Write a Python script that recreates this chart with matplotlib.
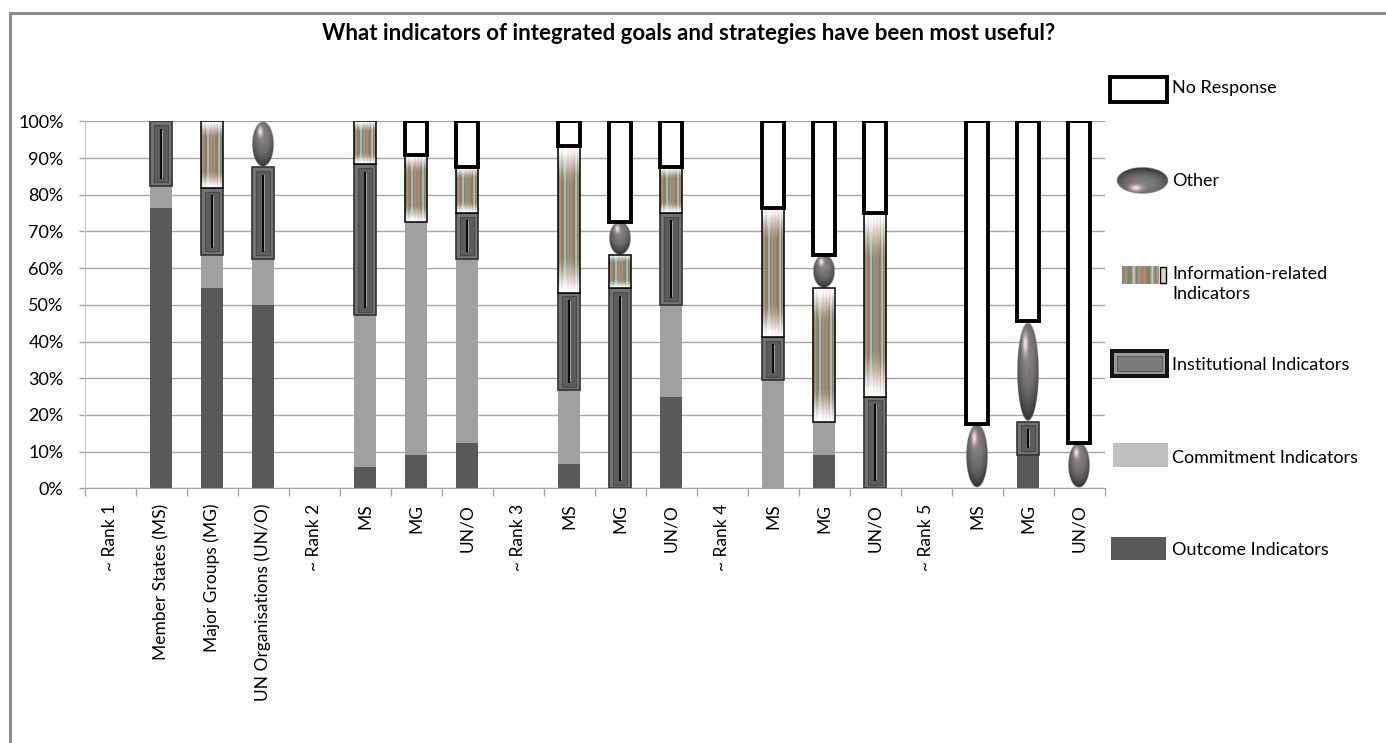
import numpy as np
import matplotlib
matplotlib.use("Agg")
import matplotlib.pyplot as plt
from matplotlib.patches import Rectangle

plt.rcParams["font.family"] = ["Lato", "DejaVu Sans"]

# ---------------------------------------------------------------- data
categories = ["~ Rank 1", "Member States (MS)", "Major Groups (MG)",
              "UN Organisations (UN/O)",
              "~ Rank 2", "MS", "MG", "UN/O",
              "~ Rank 3", "MS", "MG", "UN/O",
              "~ Rank 4", "MS", "MG", "UN/O",
              "~ Rank 5", "MS", "MG", "UN/O"]

outcome = [0, 76.5, 54.5, 50.0, 0, 5.9, 9.1, 12.5, 0, 6.7, 0, 25.0,
           0, 0, 9.1, 0, 0, 0, 9.1, 0]
commitment = [0, 5.9, 9.1, 12.5, 0, 41.2, 63.6, 50.0, 0, 20.0, 0, 25.0,
              0, 29.4, 9.1, 0, 0, 0, 0, 0]
institutional = [0, 17.6, 18.2, 25.0, 0, 41.2, 0, 12.5, 0, 26.6, 54.5, 25.0,
                 0, 11.8, 0, 25.0, 0, 0, 9.1, 0]
information = [0, 0, 18.2, 0, 0, 11.8, 18.2, 12.5, 0, 40.0, 9.1, 12.5,
               0, 35.3, 36.4, 50.0, 0, 0, 0, 0]
other = [0, 0, 0, 12.5, 0, 0, 0, 0, 0, 0, 9.1, 0,
         0, 0, 9.1, 0, 0, 17.6, 27.3, 12.5]
no_response = [0, 0, 0, 0, 0, 0, 9.1, 12.5, 0, 6.7, 27.3, 12.5,
               0, 23.5, 36.4, 25.0, 0, 82.4, 54.5, 87.5]

y_ticks = [0, 10, 20, 30, 40, 50, 60, 70, 80, 90, 100]
title = "What indicators of integrated goals and strategies have been most useful?"
legend_labels = ["No Response", "Other", "Information-related\nIndicators",
                 "Institutional Indicators", "Commitment Indicators",
                 "Outcome Indicators"]

# ---------------------------------------------------------------- textures
def stripe_texture(ncols=14, nrows=90):
    palette = np.array([
        [0.52, 0.52, 0.50], [0.80, 0.52, 0.40], [0.36, 0.58, 0.43],
        [0.60, 0.47, 0.42], [0.80, 0.80, 0.76], [0.42, 0.53, 0.47],
        [0.74, 0.58, 0.45],
    ])
    t = (np.arange(nrows) + 0.5) / nrows
    img = np.ones((nrows, ncols, 3))
    for c in range(ncols):
        col = palette[c % len(palette)]
        off = 0.05 if c % 2 else 0.0
        s = np.clip((np.minimum(t, 1 - t) - off) / 0.2, 0, 1) ** 0.9
        img[:, c, :] = (1 - s)[:, None] * 1.0 + s[:, None] * col[None, :]
    return img


def sphere_texture(nx=60, ny=90):
    u = np.linspace(-1, 1, nx)
    v = np.linspace(-1, 1, ny)
    U, V = np.meshgrid(u, v)
    r2 = U ** 2 + V ** 2
    level = 0.50 + 0.12 * V - 0.20 * r2
    rgb = np.stack([level, level * 0.97, level * 0.97], axis=-1)
    hl = np.exp(-((U + 0.25) ** 2 + (V - 0.55) ** 2) / 0.05)
    pink = np.array([1.0, 0.88, 0.90])
    rgb = rgb * (1 - hl[..., None]) + pink * hl[..., None]
    spot = 0.45 * np.exp(-((U - 0.15) ** 2 + (V + 0.05) ** 2) / 0.012)
    blue = np.array([0.36, 0.36, 0.62])
    rgb = rgb * (1 - spot[..., None]) + blue * spot[..., None]
    alpha = np.clip((1 - r2) / 0.08, 0, 1)
    return np.dstack([np.clip(rgb, 0, 1), alpha])


STRIPES = stripe_texture()
SPHERE = sphere_texture()

# ---------------------------------------------------------------- figure
fig = plt.figure(figsize=(13.86, 7.43), dpi=100)
W, H = 1386, 743
ax = fig.add_axes([84.5 / W, 254.6 / H, 1020 / W, 367.1 / H])

x = np.arange(len(categories))
bw = 0.43
grid_c = "#a6a6a6"

base = np.zeros(len(categories))

# outcome
ax.bar(x, outcome, bw, bottom=base, color="#595959", zorder=2)
base = base + np.array(outcome)

# commitment
ax.bar(x, commitment, bw, bottom=base, color="#a0a0a0", zorder=2)
base = base + np.array(commitment)

# institutional: bevelled panel with a dark centre groove
inst = np.array(institutional)
m = inst > 0
ins = 1.0
ax.bar(x[m], inst[m], bw, bottom=base[m], color="#737373",
       edgecolor="#333333", linewidth=1.2, zorder=2)
ax.bar(x[m], inst[m] - 2 * ins, bw * 0.62, bottom=base[m] + ins,
       color="#5c5c5c", edgecolor="#4a4a4a", linewidth=0.8, zorder=3)
ax.bar(x[m] + bw * 0.07, inst[m] - 4.5 * ins, bw * 0.06, bottom=base[m] + 2.25 * ins,
       color="#a0a0a0", linewidth=0, zorder=3)
ax.bar(x[m], inst[m] - 4 * ins, bw * 0.1, bottom=base[m] + 2 * ins,
       color="#0a0a0a", linewidth=0, zorder=3)
base = base + inst

# information-related: striped fill with thin outline
info = np.array(information)
for xi, b, h in zip(x, base, info):
    if h <= 0:
        continue
    ax.imshow(STRIPES, extent=(xi - bw / 2, xi + bw / 2, b, b + h),
              origin="lower", aspect="auto", interpolation="bilinear", zorder=3)
ax.bar(x[info > 0], info[info > 0], bw, bottom=base[info > 0], fill=False,
       edgecolor="black", linewidth=1.1, zorder=4)
base = base + info

# other: shaded spheres stretched to the segment
oth = np.array(other)
for xi, b, h in zip(x, base, oth):
    if h <= 0:
        continue
    ax.imshow(SPHERE, extent=(xi - bw / 2, xi + bw / 2, b, b + h),
              origin="lower", aspect="auto", interpolation="bilinear", zorder=3)
base = base + oth

# no response: white with heavy outline
nr = np.array(no_response)
ax.bar(x[nr > 0], nr[nr > 0], bw * 0.96, bottom=base[nr > 0], color="white",
       edgecolor="black", linewidth=2.8, zorder=4)

# ---------------------------------------------------------------- axes styling
ax.set_xlim(-0.5, len(categories) - 0.5)
ax.set_ylim(0, 100)
ax.set_yticks(y_ticks)
ax.set_yticklabels([f"{v}%" for v in y_ticks], fontsize=13)
ax.yaxis.grid(True, color=grid_c, linewidth=1.0)
ax.set_axisbelow(True)
ax.tick_params(axis="y", length=4.5, width=1, color=grid_c, pad=10.5)

ax.set_xticks(x)
ax.set_xticklabels(categories, rotation=90, fontsize=12.5, va="top")
ax.set_xticks(np.arange(len(categories) + 1) - 0.5, minor=True)
ax.tick_params(axis="x", which="major", length=0, pad=11)
ax.tick_params(axis="x", which="minor", length=6, width=1, color=grid_c)

for s in ("top", "right"):
    ax.spines[s].set_visible(False)
ax.spines["left"].set_color("#c8c8c8")
ax.spines["bottom"].set_color(grid_c)

fig.text(689 / W, 1 - 33 / H, title, ha="center", va="center",
         fontsize=16, fontweight="bold")

# ---------------------------------------------------------------- legend + frame
ov = fig.add_axes([0, 0, 1, 1], facecolor="none")
ov.set_xlim(0, W)
ov.set_ylim(H, 0)
ov.axis("off")

# chart frame
ov.plot([9.5, 9.5, W], [H, 13, 13], color="#8c8c8c", linewidth=2.2,
        solid_joinstyle="miter")

text_x = 1172
leg_y = [88, 181, 284, 365, 458, 550]

# No Response key
ov.add_patch(Rectangle((1110, 77), 57, 25, facecolor="white", edgecolor="black",
                       linewidth=2.8))
# Other key
ov.imshow(SPHERE, extent=(1116, 1169, 194, 167), aspect="auto",
          interpolation="bilinear")
# Information-related key
ov.imshow(STRIPES[20:70], extent=(1122, 1159, 284, 266), aspect="auto",
          interpolation="bilinear")
ov.add_patch(Rectangle((1160, 267), 6, 16, facecolor="#d8d8d8", edgecolor="black",
                       linewidth=1.0))
# Institutional key
ov.add_patch(Rectangle((1110, 349), 59, 29, facecolor="#151515", edgecolor="none"))
ov.add_patch(Rectangle((1114, 353), 51, 21, facecolor="#9a9a9a", edgecolor="none"))
ov.add_patch(Rectangle((1117, 356), 45, 15, facecolor="#7c7c7c", edgecolor="#5a5a5a",
                       linewidth=0.8))
# Commitment key
ov.add_patch(Rectangle((1113, 443), 55, 24, facecolor="#bfbfbf", edgecolor="none"))
# Outcome key
ov.add_patch(Rectangle((1111, 537), 55, 23, facecolor="#595959", edgecolor="none"))

for y, lab in zip(leg_y, legend_labels):
    ov.text(text_x, y, lab, ha="left", va="center", fontsize=13,
            linespacing=1.25)

ov.set_xlim(0, W)
ov.set_ylim(H, 0)

fig.savefig("out.png", dpi=100)
